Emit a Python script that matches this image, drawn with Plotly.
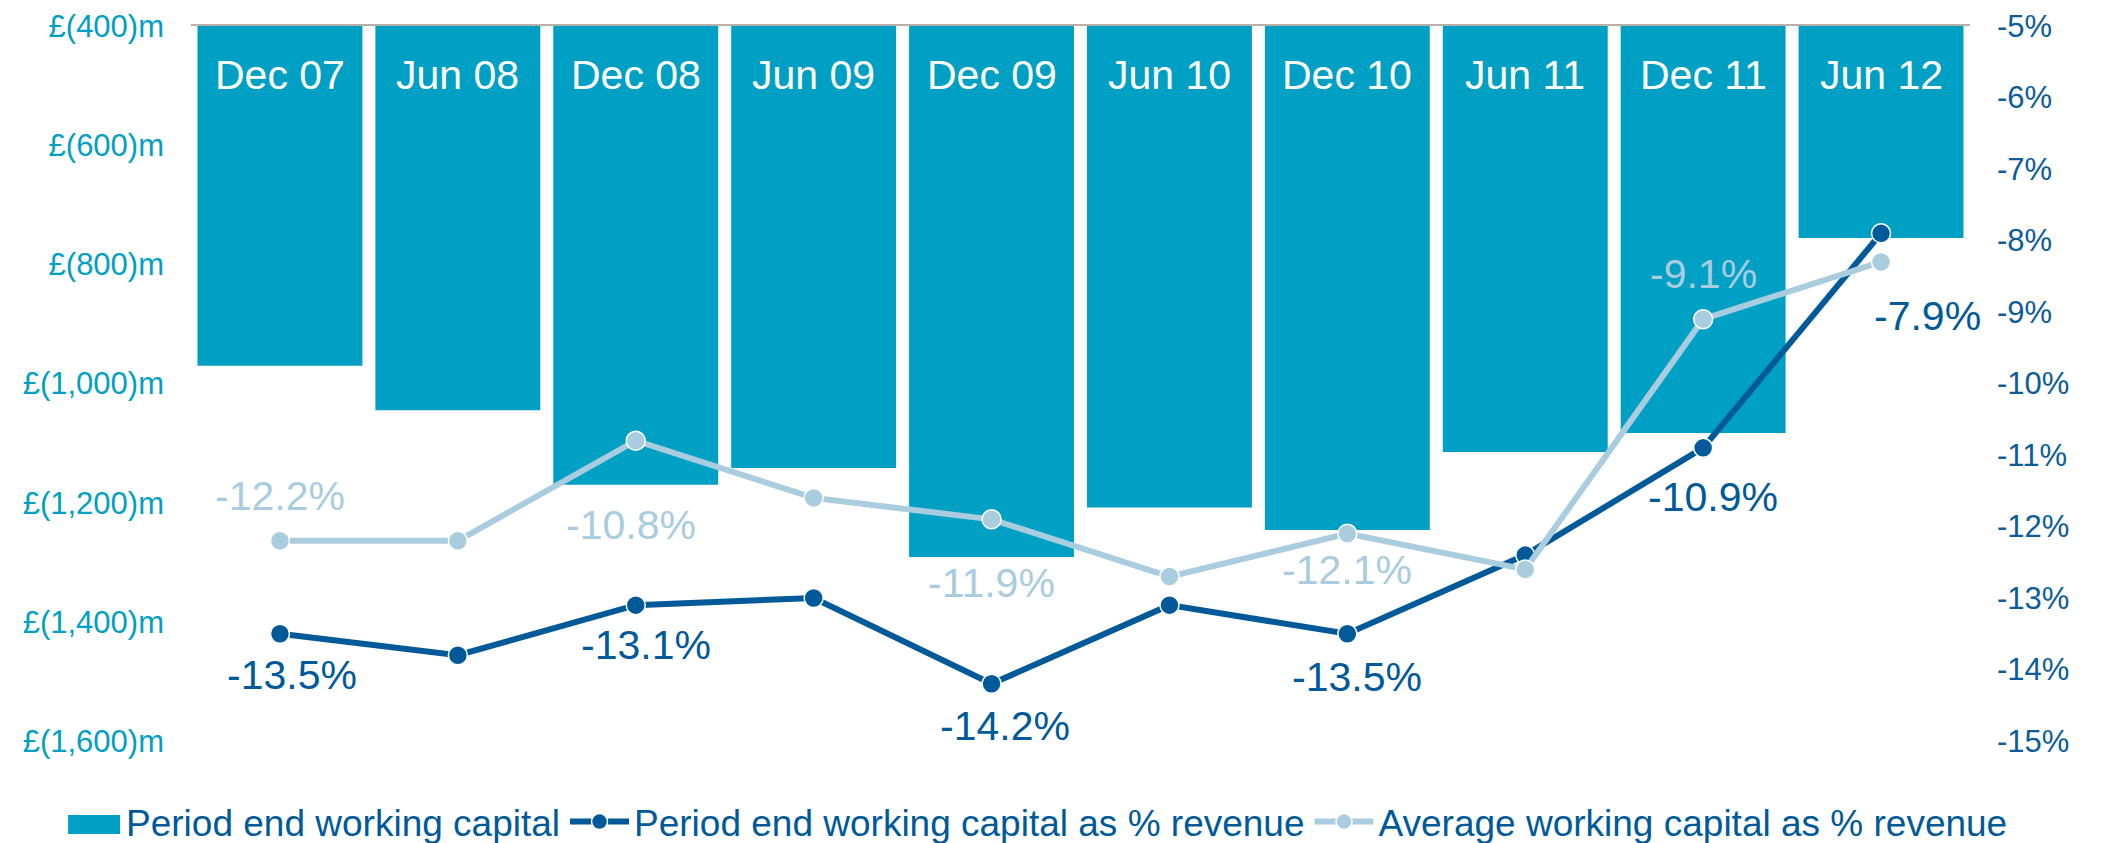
import plotly.graph_objects as go

categories = ["Dec 07", "Jun 08", "Dec 08", "Jun 09", "Dec 09",
              "Jun 10", "Dec 10", "Jun 11", "Dec 11", "Jun 12"]
working_capital = [-970, -1045, -1170, -1142, -1291, -1208, -1246, -1115, -1083, -756]
period_end_pct = [-13.5, -13.8, -13.1, -13.0, -14.2, -13.1, -13.5, -12.4, -10.9, -7.9]
average_pct = [-12.2, -12.2, -10.8, -11.6, -11.9, -12.7, -12.1, -12.6, -9.1, -8.3]

left_ticks = [-400, -600, -800, -1000, -1200, -1400, -1600]
right_ticks = [-5, -6, -7, -8, -9, -10, -11, -12, -13, -14, -15]

# which points carry a data label, with pixel offsets (x, y)
pe_label_idx = [0, 2, 4, 6, 8, 9]
pe_label_off = [(12, -41), (10, -40), (13, -42), (10, -43), (10, -49), (46, -83)]
avg_label_idx = [0, 2, 4, 6, 8]
avg_label_off = [(0, 45), (-5, -84), (0, -64), (0, -36), (0, 45)]

BAR = "#00A0C4"
DARK = "#005A9A"
LIGHT = "#A9CCDE"
LEFT_TICK = "#00A0C6"
RIGHT_TICK = "#0B5C99"
FONT = "Liberation Sans, Arial, sans-serif"

fig = go.Figure()
fig.add_trace(go.Bar(
    x=categories, y=working_capital, name="Period end working capital",
    marker=dict(color=BAR, line=dict(width=0)), yaxis="y", showlegend=False,
))
# legend entry for the bars; its wide swatch is drawn as a shape below
fig.add_trace(go.Scatter(
    x=[None], y=[None], name="Period end working capital", mode="lines",
    line=dict(color="rgba(0,0,0,0)", width=1), yaxis="y",
))
fig.add_trace(go.Scatter(
    x=categories, y=period_end_pct, name="Period end working capital as % revenue",
    mode="lines+markers", yaxis="y2",
    line=dict(color=DARK, width=6),
    marker=dict(size=19, color=DARK, line=dict(color="white", width=1.5)),
))
fig.add_trace(go.Scatter(
    x=categories, y=average_pct, name="Average working capital as % revenue",
    mode="lines+markers", yaxis="y2",
    line=dict(color=LIGHT, width=6),
    marker=dict(size=19, color=LIGHT, line=dict(color="white", width=1.5)),
))

annotations = []
for i, (dx, dy) in zip(pe_label_idx, pe_label_off):
    annotations.append(dict(
        x=categories[i], y=period_end_pct[i], xref="x", yref="y2",
        text=f"{period_end_pct[i]:.1f}%", showarrow=False,
        xshift=dx, yshift=dy, font=dict(size=41, color=DARK, family=FONT),
    ))
for i, (dx, dy) in zip(avg_label_idx, avg_label_off):
    annotations.append(dict(
        x=categories[i], y=average_pct[i], xref="x", yref="y2",
        text=f"{average_pct[i]:.1f}%", showarrow=False,
        xshift=dx, yshift=dy, font=dict(size=41, color=LIGHT, family=FONT),
    ))
for c in categories:
    annotations.append(dict(
        x=c, y=1, xref="x", yref="paper", yanchor="middle",
        text=c, showarrow=False, yshift=-49,
        font=dict(size=41, color="white", family=FONT),
    ))

fig.update_layout(
    width=2094, height=835,
    margin=dict(l=183, r=132, t=18, b=102, autoexpand=False),
    paper_bgcolor="white", plot_bgcolor="white",
    font=dict(family=FONT),
    bargap=0.073,
    showlegend=True,
    legend=dict(
        orientation="h", x=-0.0753, xanchor="left", y=-0.1133, yanchor="middle",
        font=dict(size=37, color=DARK, family=FONT),
        itemwidth=59, traceorder="normal", borderwidth=0,
        bgcolor="rgba(0,0,0,0)",
    ),
    shapes=[dict(
        type="rect", xref="paper", yref="paper",
        x0=-0.0691, x1=-0.0399, y0=-0.1301, y1=-0.1035,
        fillcolor=BAR, line=dict(width=0), layer="above",
    )],
    xaxis=dict(
        type="category", side="top", showticklabels=False, range=[-0.5, 9.5],
        showline=True, linecolor="#B8B0A8", linewidth=2,
        showgrid=False, zeroline=False, ticks="",
    ),
    yaxis=dict(
        range=[-1600, -400], tickvals=left_ticks,
        ticktext=[f"£({abs(v):,})m" for v in left_ticks],
        tickfont=dict(size=31, color=LEFT_TICK, family=FONT),
        showgrid=False, zeroline=False, showline=False, ticks="",
        ticklabelstandoff=26, ticklabeloverflow="allow",
    ),
    yaxis2=dict(
        range=[-15, -5], overlaying="y", side="right", tickvals=right_ticks,
        ticktext=[f"{v}%" for v in right_ticks],
        tickfont=dict(size=31, color=RIGHT_TICK, family=FONT),
        showgrid=False, zeroline=False, showline=False, ticks="",
        ticklabelstandoff=26, ticklabeloverflow="allow",
    ),
    annotations=annotations,
)

fig.write_html("out.html")
